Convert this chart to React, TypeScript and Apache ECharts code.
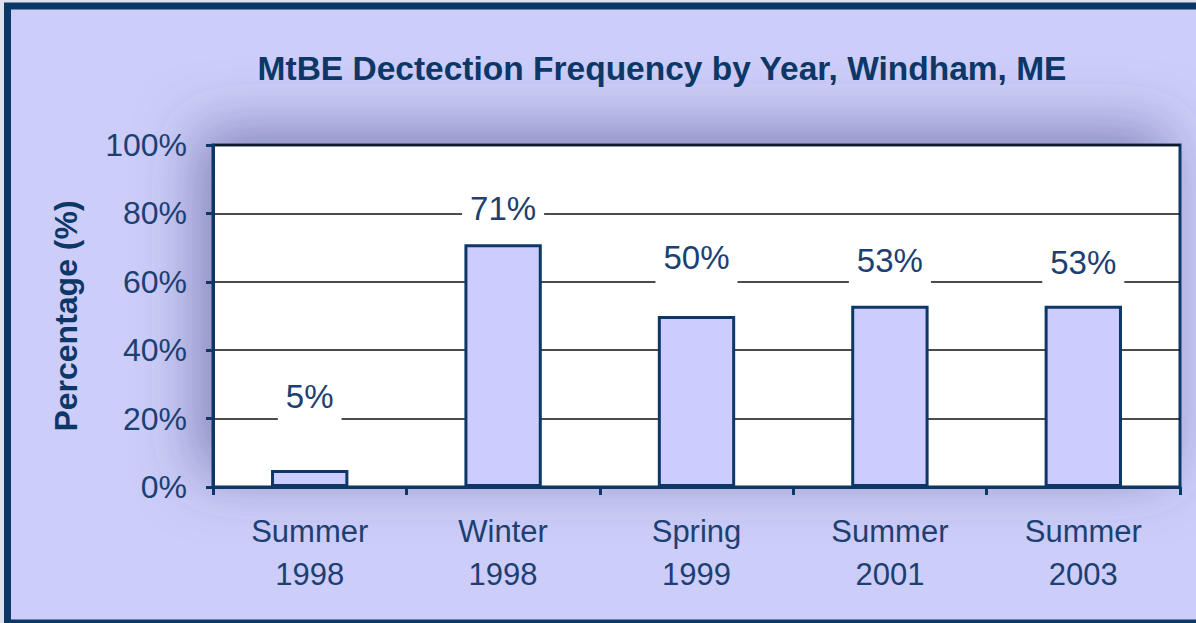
import React, { useEffect, useRef } from "react";
import * as echarts from "echarts";

const categories = ["Summer\n1998", "Winter\n1998", "Spring\n1999", "Summer\n2001", "Summer\n2003"];
const detectionPct = [5, 71, 50, 53, 53];
const yTicks = { min: 0, max: 100, interval: 20 };
const titleText = "MtBE Dectection Frequency by Year, Windham, ME";
const yAxisName = "Percentage (%)";

// style: how far each data label sits above its bar (px)
const LABEL_LIFT = [45, 8, 31, 17, 15];

const NAVY = "#0c3767";
const TEXT = "#1d3f72";
const LAV = "#cccdf8";
const FONT = "'Liberation Sans', Arial, sans-serif";

const G = { left: 213, top: 145, width: 967, height: 342 };

export default function App() {
  const ref = useRef<HTMLDivElement>(null);
  useEffect(() => {
    if (!ref.current) return;
    const chart = echarts.init(ref.current, null, { renderer: "svg" });
    chart.setOption({
      animation: false,
      backgroundColor: "#dde2ee",
      textStyle: { fontFamily: FONT },
      title: {
        text: titleText,
        left: 657,
        textAlign: "center",
        top: 46,
        textStyle: { fontFamily: FONT, fontSize: 33.5, fontWeight: "bold", color: NAVY },
      },
      graphic: {
        elements: [
          {
            type: "rect",
            z: -3,
            shape: { x: 7.5, y: 6, width: 1220, height: 617 },
            style: { fill: LAV, stroke: NAVY, lineWidth: 7 },
          },
          {
            type: "rect",
            z: -1,
            shape: { x: G.left, y: G.top, width: G.width, height: G.height },
            style: {
              fill: "#ffffff",
              stroke: NAVY,
              lineWidth: 3,
              shadowBlur: 60,
              shadowColor: "rgba(70,70,130,0.55)",
              shadowOffsetX: -14,
              shadowOffsetY: -14,
            },
          },
        ],
      },
      grid: { left: G.left, top: G.top, width: G.width, height: G.height, show: false },
      xAxis: {
        type: "category",
        data: categories,
        boundaryGap: true,
        axisLine: { show: true, lineStyle: { color: NAVY, width: 3 } },
        axisTick: { show: true, length: 8, alignWithLabel: false, lineStyle: { color: NAVY, width: 3 } },
        axisLabel: {
          margin: 23,
          fontFamily: FONT,
          fontSize: 31,
          lineHeight: 43,
          color: TEXT,
          interval: 0,
        },
      },
      yAxis: {
        type: "value",
        min: yTicks.min,
        max: yTicks.max,
        interval: yTicks.interval,
        name: yAxisName,
        nameLocation: "middle",
        nameRotate: 90,
        nameGap: 131,
        nameTextStyle: { fontFamily: FONT, fontSize: 32, fontWeight: "bold", color: NAVY },
        axisLine: { show: true, lineStyle: { color: NAVY, width: 3 } },
        axisTick: { show: true, length: 7, lineStyle: { color: NAVY, width: 3 } },
        axisLabel: {
          formatter: "{value}%",
          margin: 26,
          fontFamily: FONT,
          fontSize: 32,
          color: TEXT,
        },
        splitLine: { show: true, lineStyle: { color: "#111111", width: 1.5 } },
      },
      series: [
        {
          type: "bar",
          barWidth: "40%",
          data: detectionPct.map((v, i) => ({
            value: v,
            label: { distance: LABEL_LIFT[i] },
          })),
          itemStyle: { color: "#ccccff", borderColor: NAVY, borderWidth: 3 },
          label: {
            show: true,
            position: "top",
            formatter: "{c}%",
            fontFamily: FONT,
            fontSize: 33,
            lineHeight: 36,
            color: TEXT,
            backgroundColor: "#ffffff",
            padding: [2, 8, 10, 8],
          },
        },
      ],
    });
    return () => chart.dispose();
  }, []);
  return (
    <div
      ref={ref}
      style={{ position: "absolute", left: 0, top: 0, width: 1196, height: 623 }}
    />
  );
}
